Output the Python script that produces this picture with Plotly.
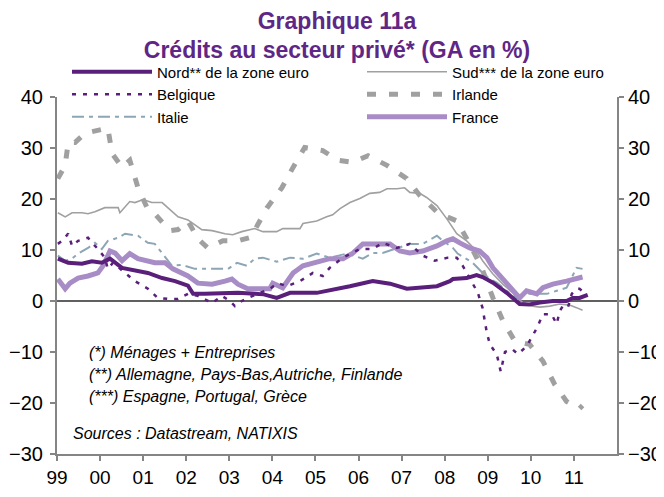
import plotly.graph_objects as go

# ---------------- data (decimal years, % y/y) ----------------
nord_x = [1999.02, 1999.26, 1999.58, 1999.81, 2000.04, 2000.23, 2000.51, 2000.81, 2001.11, 2001.44,
          2001.74, 2002.04, 2002.16, 2002.43, 2002.83, 2003.20, 2003.59, 2003.80, 2004.10, 2004.41,
          2005.03, 2005.50, 2005.80, 2006.33, 2006.73, 2007.12, 2007.49, 2007.82, 2008.12, 2008.19,
          2008.51, 2008.74, 2008.88, 2009.12, 2009.44, 2009.74, 2009.97, 2010.21, 2010.51, 2010.83,
          2010.97, 2011.13, 2011.32]
nord_y = [8.3, 7.5, 7.3, 7.8, 7.5, 8.3, 6.5, 5.9, 5.5, 4.5,
          3.9, 3.0, 1.4, 1.4, 1.6, 1.6, 1.4, 1.3, 0.6, 1.6,
          1.6, 2.3, 2.9, 3.9, 3.4, 2.4, 2.6, 2.9, 3.9, 4.3,
          4.5, 5.1, 4.7, 3.6, 1.6, -0.6, -0.7, -0.3, 0.0, 0.0,
          0.6, 0.6, 1.2]

sud_x = [1999.02, 1999.19, 1999.35, 1999.58, 1999.72, 1999.88, 2000.11, 2000.42, 2000.46, 2000.69,
         2000.81, 2001.00, 2001.20, 2001.44, 2001.81, 2002.04, 2002.36, 2002.60, 2002.90, 2003.08,
         2003.29, 2003.59, 2003.78, 2004.10, 2004.24, 2004.64, 2004.71, 2005.03, 2005.26, 2005.40,
         2005.57, 2005.80, 2006.03, 2006.26, 2006.49, 2006.66, 2006.89, 2007.07, 2007.19, 2007.42,
         2007.58, 2007.82, 2008.05, 2008.28, 2008.51, 2008.74, 2008.88, 2009.12, 2009.35, 2009.58,
         2009.81, 2010.04, 2010.21, 2010.44, 2010.67, 2010.90, 2011.06, 2011.20]
sud_y = [17.3, 16.5, 17.3, 17.3, 17.1, 17.5, 18.3, 18.3, 17.3, 19.5,
         19.3, 19.9, 19.3, 19.3, 16.5, 15.9, 14.0, 13.8, 13.2, 13.0,
         13.6, 14.2, 13.6, 13.6, 14.2, 14.2, 15.2, 15.7, 16.5, 16.9,
         18.1, 19.3, 20.1, 21.1, 21.3, 22.0, 22.0, 22.2, 21.3, 21.1,
         20.3, 18.7, 16.1, 13.2, 11.8, 9.8, 7.9, 5.3, 3.3, 1.6,
         -0.3, -1.0, -1.2, -1.0, -0.6, -0.8, -1.3, -1.8]

belg_x = [1999.02, 1999.12, 1999.26, 1999.35, 1999.49, 1999.72, 1999.84, 1999.95, 2000.11, 2000.18,
          2000.30, 2000.81, 2001.11, 2001.34, 2001.58, 2001.81, 2002.04, 2002.27, 2002.60, 2002.83,
          2003.01, 2003.13, 2003.29, 2003.43, 2003.94, 2004.13, 2004.34, 2004.64, 2004.94, 2005.17,
          2005.33, 2005.64, 2006.03, 2006.33, 2006.56, 2006.89, 2007.19, 2007.49, 2007.77, 2008.07,
          2008.28, 2008.42, 2008.77, 2008.88, 2008.93, 2008.98, 2009.05, 2009.21, 2009.30, 2009.40,
          2009.56, 2009.70, 2009.90, 2010.14, 2010.28, 2010.48, 2010.60, 2010.67, 2010.74, 2010.86,
          2010.95, 2011.06, 2011.13, 2011.30]
belg_y = [11.2, 11.8, 13.2, 10.8, 11.8, 12.4, 11.2, 10.2, 8.5, 6.3,
          7.5, 3.9, 2.4, 0.6, 0.4, 0.4, 1.4, 1.0, -0.4, 1.0,
          0.0, -1.0, 0.0, 0.6, 2.4, 3.5, 2.9, 3.9, 5.5, 4.9,
          6.5, 8.5, 10.2, 10.2, 11.4, 10.4, 11.2, 8.9, 7.9, 8.5,
          8.5, 6.9, 1.6, -1.4, -3.9, -6.3, -8.5, -10.5, -13.8, -10.0,
          -9.4, -10.4, -8.9, -5.3, -2.6, -2.6, -4.5, -2.0, -1.0, -1.3,
          1.4, 2.4, 2.4, 1.2]

irl_x = [1999.02, 1999.19, 1999.26, 1999.42, 1999.65, 1999.95, 2000.18, 2000.28, 2000.51, 2000.69,
         2000.88, 2001.09, 2001.27, 2001.62, 2001.81, 2002.04, 2002.27, 2002.50, 2002.85, 2003.20,
         2003.50, 2003.87, 2004.22, 2004.48, 2004.75, 2005.17, 2005.52, 2005.87, 2006.22, 2006.66,
         2007.12, 2007.42, 2007.84, 2008.28, 2008.58, 2008.86, 2009.12, 2009.35, 2009.63, 2009.97,
         2010.28, 2010.55, 2010.83, 2011.13, 2011.20]
irl_y = [24.0, 26.6, 31.1, 31.1, 32.9, 33.5, 33.9, 28.9, 26.2, 27.6,
         22.2, 18.3, 17.1, 13.8, 14.0, 15.7, 12.2, 10.4, 11.8, 11.8,
         12.5, 18.2, 22.2, 26.2, 30.1, 29.5, 27.6, 27.2, 28.5, 26.6,
         24.0, 20.7, 17.3, 15.7, 11.2, 6.5, 0.6, -3.9, -7.9, -8.5,
         -11.8, -16.3, -19.7, -21.1, -20.5]

ita_x = [1999.02, 1999.19, 1999.35, 1999.49, 1999.72, 1999.88, 2000.04, 2000.18, 2000.42, 2000.58,
         2000.88, 2001.11, 2001.27, 2001.44, 2001.67, 2001.90, 2002.20, 2002.43, 2002.74, 2002.97,
         2003.18, 2003.41, 2003.59, 2003.78, 2004.10, 2004.41, 2004.71, 2005.03, 2005.33, 2005.73,
         2006.10, 2006.33, 2006.56, 2006.89, 2007.19, 2007.49, 2007.82, 2007.96, 2008.19, 2008.30,
         2008.51, 2008.65, 2008.88, 2009.05, 2009.21, 2009.44, 2009.67, 2009.81, 2010.04, 2010.37,
         2010.60, 2010.83, 2011.06, 2011.20]
ita_y = [8.9, 7.9, 8.3, 9.3, 10.4, 11.4, 10.2, 11.8, 12.4, 13.2,
         12.8, 11.4, 11.2, 9.4, 6.9, 7.1, 6.3, 6.3, 6.3, 6.3,
         7.5, 6.9, 8.3, 8.5, 7.7, 8.5, 8.3, 9.3, 8.5, 9.3,
         8.3, 9.4, 9.4, 10.4, 11.2, 11.2, 12.8, 11.8, 10.4, 9.3,
         8.3, 7.5, 5.5, 4.3, 3.6, 2.0, 0.6, 1.4, 1.4, 1.4,
         2.0, 2.6, 6.5, 6.3]

fra_x = [1999.02, 1999.19, 1999.30, 1999.49, 1999.72, 1999.95, 2000.07, 2000.23, 2000.35, 2000.51,
         2000.69, 2000.88, 2001.27, 2001.51, 2001.69, 2001.90, 2002.04, 2002.27, 2002.60, 2002.90,
         2003.06, 2003.20, 2003.43, 2003.94, 2004.01, 2004.24, 2004.48, 2004.71, 2005.03, 2005.33,
         2005.64, 2005.87, 2006.10, 2006.42, 2006.73, 2006.96, 2007.19, 2007.49, 2007.82, 2008.05,
         2008.19, 2008.35, 2008.58, 2008.81, 2008.98, 2009.12, 2009.35, 2009.58, 2009.74, 2009.90,
         2010.14, 2010.28, 2010.51, 2010.83, 2011.13, 2011.20]
fra_y = [4.3, 2.4, 3.5, 4.5, 4.9, 5.5, 6.9, 9.8, 9.4, 7.9,
         9.3, 8.3, 7.5, 7.5, 6.3, 5.5, 4.9, 3.5, 3.3, 3.9,
         4.3, 3.3, 2.4, 2.4, 3.5, 2.6, 5.5, 6.9, 7.5, 8.3,
         8.3, 9.4, 11.2, 11.2, 11.2, 9.8, 9.4, 9.8, 10.8, 11.8,
         12.2, 11.4, 10.4, 9.8, 8.5, 6.5, 4.3, 2.0, 0.6, 2.0,
         1.4, 2.6, 3.3, 3.9, 4.5, 4.7]

year_ticks = [1999, 2000, 2001, 2002, 2003, 2004, 2005, 2006, 2007, 2008, 2009, 2010, 2011]
year_labels = ["99", "00", "01", "02", "03", "04", "05", "06", "07", "08", "09", "10", "11"]

notes = ["(*) Ménages + Entreprises",
         "(**) Allemagne, Pays-Bas,Autriche, Finlande",
         "(***) Espagne, Portugal, Grèce"]
source = "Sources : Datastream, NATIXIS"

# ---------------- styles ----------------
FONT = "Liberation Sans, Arial, sans-serif"
PURPLE = "#5a1f7a"
GREY = "#a0a0a0"
BLUEGREY = "#8ca6b6"
LILAC = "#a88cc6"
AXIS = "#858585"

# the page body has an 8px margin: the figure is sized so the page does not overflow
OFF = 8
W, H = 664 - OFF, 497 - 2 * OFF
PLOT_L, PLOT_R, PLOT_T, PLOT_B = 57, 617, 97, 454      # plot-area edges in page pixels
L, T = PLOT_L - OFF, PLOT_T - OFF
R, B = W - (PLOT_R - OFF), H - (PLOT_B - OFF)
PW, PH = W - L - R, H - T - B


def px_x(p):  # page pixel -> paper x
    return (p - OFF - L) / PW


def px_y(p):  # page pixel -> paper y
    return (H - B - (p - OFF)) / PH


fig = go.Figure()
fig.add_trace(go.Scatter(x=irl_x, y=irl_y, name="Irlande", mode="lines",
                         legend="legend2", legendrank=2,
                         line=dict(color=GREY, width=5, dash="9px,13px")))
fig.add_trace(go.Scatter(x=sud_x, y=sud_y, name="Sud*** de la zone euro", mode="lines",
                         legend="legend2", legendrank=1,
                         line=dict(color=GREY, width=1.6)))
fig.add_trace(go.Scatter(x=ita_x, y=ita_y, name="Italie", mode="lines",
                         legend="legend", legendrank=3,
                         line=dict(color=BLUEGREY, width=2, dash="12px,5px,4px,5px")))
fig.add_trace(go.Scatter(x=fra_x, y=fra_y, name="France", mode="lines",
                         legend="legend2", legendrank=3,
                         line=dict(color=LILAC, width=5)))
fig.add_trace(go.Scatter(x=belg_x, y=belg_y, name="Belgique", mode="lines",
                         legend="legend", legendrank=2,
                         line=dict(color=PURPLE, width=2.5, dash="4px,7px")))
# Nord is drawn against the right-hand (mirror) axis, which has the same scale
fig.add_trace(go.Scatter(x=nord_x, y=nord_y, name="Nord** de la zone euro", mode="lines",
                         legend="legend", legendrank=1, yaxis="y2",
                         line=dict(color=PURPLE, width=4)))

yax_common = dict(range=[-30, 40], dtick=10, tick0=0, ticks="outside", ticklen=5, tickwidth=1.5,
                  tickcolor=AXIS, showline=True, linecolor=AXIS, linewidth=2, showgrid=False,
                  automargin=False, tickfont=dict(family=FONT, size=20, color="#000000"))

legend_common = dict(orientation="v", xanchor="left", y=px_y(55.5), yanchor="top",
                     itemwidth=80, tracegroupgap=0, traceorder="normal",
                     font=dict(family=FONT, size=15, color="#000000"), bgcolor="rgba(0,0,0,0)")

fig.update_layout(
    width=W, height=H,
    margin=dict(l=L, r=R, t=T, b=B, autoexpand=False),
    paper_bgcolor="white", plot_bgcolor="white",
    font=dict(family=FONT, color="#000000"),
    title=dict(text="<b>Graphique 11a</b><br><b>Crédits au secteur privé* (GA en %)</b>",
               font=dict(family=FONT, size=23, color="#5f2785"),
               x=0.5, xref="paper", xanchor="center", y=1 - 20.5 / H, yref="container",
               yanchor="middle"),
    xaxis=dict(range=[1999, 2012], tickvals=year_ticks, ticktext=year_labels, ticks="outside",
               ticklen=5, tickwidth=1.5, tickcolor=AXIS, showline=True, linecolor=AXIS, linewidth=2,
               showgrid=False, zeroline=False, ticklabelstandoff=0, automargin=False,
               tickfont=dict(family=FONT, size=19, color="#000000")),
    yaxis=dict(**yax_common, zeroline=True, zerolinecolor="#606060", zerolinewidth=2,
               ticklabelstandoff=3),
    yaxis2=dict(**yax_common, overlaying="y", side="right", anchor="x", zeroline=False,
                ticklabelstandoff=0),
    legend=dict(**legend_common, x=px_x(67)),
    legend2=dict(**legend_common, x=px_x(362)),
    showlegend=True,
)

for i, t in enumerate(notes):
    fig.add_annotation(text="<i>" + t + "</i>", xref="paper", yref="paper",
                       x=px_x(87), y=px_y(352 + 22 * i),
                       xanchor="left", yanchor="middle", showarrow=False,
                       font=dict(family=FONT, size=16, color="#000000"))
fig.add_annotation(text="<i>" + source + "</i>", xref="paper", yref="paper",
                   x=px_x(71), y=px_y(433), xanchor="left", yanchor="middle",
                   showarrow=False, font=dict(family=FONT, size=16, color="#000000"))

fig.write_html("out.html")
